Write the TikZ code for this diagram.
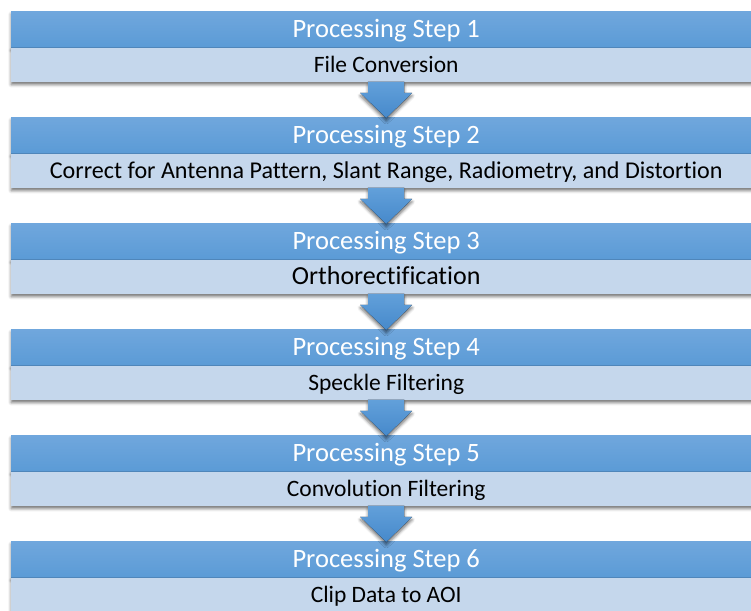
\documentclass[tikz,border=0pt]{standalone}
\usepackage{fontspec}
\setmainfont{Carlito}[Ligatures={NoCommon}]
\usetikzlibrary{shadows.blur,calc}

\definecolor{hdrtop}{RGB}{112,167,221}
\definecolor{hdrbot}{RGB}{91,155,214}
\definecolor{bodyfill}{RGB}{197,215,236}
\definecolor{arrtop}{RGB}{98,160,218}
\definecolor{arrbot}{RGB}{70,137,203}

\tikzset{
  boxshadow/.style={blur shadow={shadow xshift=0pt, shadow yshift=-3pt,
      shadow blur radius=3pt, shadow opacity=55}},
  header/.style={rectangle, anchor=north west, minimum width=750pt,
      minimum height=36pt, inner sep=0pt, top color=hdrtop, bottom color=hdrbot,
      text=white, font=\fontsize{26.5}{30}\selectfont,
      text height=17pt, text depth=0pt, boxshadow},
  stepbody/.style={rectangle, anchor=north, minimum width=750pt,
      minimum height=34pt, inner sep=0pt, fill=bodyfill, text=black,
      font=\fontsize{23.5}{27}\selectfont,
      text height=15.1pt, text depth=0pt, boxshadow},
  widebody/.style={stepbody, font=\fontsize{24.1}{28}\selectfont, text height=15.5pt},
  bigbody/.style={stepbody, font=\fontsize{26}{30}\selectfont, text height=16.7pt},
  blockarrow/.style={top color=arrtop, bottom color=arrbot, draw=none, boxshadow}
}

% block arrow from the bottom of one step to the top of the next
\newcommand{\steparrow}[2]{%
  \fill[blockarrow]
    ($(#1.south)+(-18,0)$) -- ($(#1.south)+(-18,-11)$) --
    ($(#1.south)+(-26,-11)$) -- ($(#2.north)+(0,-1)$) --
    ($(#1.south)+(26,-11)$) -- ($(#1.south)+(18,-11)$) --
    ($(#1.south)+(18,0)$) -- cycle;}

\begin{document}
\begin{tikzpicture}[x=1pt, y=1pt]
\useasboundingbox (0,0) rectangle (751,610);

\node[header] (h1) at (11,599) {Processing Step 1};
\node[stepbody] (b1) at (h1.south) {File Conversion};

\node[header] (h2) at (11,493) {Processing Step 2};
\node[widebody] (b2) at (h2.south) {Correct for Antenna Pattern, Slant Range, Radiometry, and Distortion};

\node[header] (h3) at (11,387) {Processing Step 3};
\node[bigbody] (b3) at (h3.south) {Orthorectification};

\node[header] (h4) at (11,281) {Processing Step 4};
\node[stepbody] (b4) at (h4.south) {Speckle Filtering};

\node[header] (h5) at (11,175) {Processing Step 5};
\node[stepbody] (b5) at (h5.south) {Convolution Filtering};

\node[header] (h6) at (11,69) {Processing Step 6};
\node[stepbody] (b6) at (h6.south) {Clip Data to AOI};

\steparrow{b1}{h2}
\steparrow{b2}{h3}
\steparrow{b3}{h4}
\steparrow{b4}{h5}
\steparrow{b5}{h6}
\end{tikzpicture}
\end{document}
